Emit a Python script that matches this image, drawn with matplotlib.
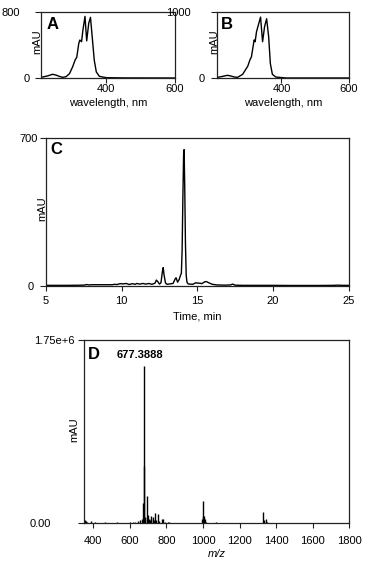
import matplotlib
matplotlib.use("Agg")
import matplotlib.pyplot as plt
from matplotlib.transforms import ScaledTranslation

plt.rcParams['font.family'] = ['Liberation Sans', 'DejaVu Sans']
plt.rcParams['font.size'] = 8

# ---------------- data ----------------
wl_A = [210, 229, 244, 254, 263, 273, 283, 293, 302, 310, 314, 320, 323, 328, 332, 338,
        343, 349, 354, 359, 365, 371, 380, 400, 450, 600]
abs_A = [8, 25, 45, 35, 20, 8, 16, 53, 135, 225, 250, 420, 460, 440, 580, 747,
         450, 665, 735, 500, 216, 73, 20, 4, 1, 0]

wl_B = [209, 226, 240, 250, 260, 270, 285, 300, 307, 311, 319, 322, 326, 338,
        344, 350, 356, 362, 367, 373, 383, 413, 450, 600]
abs_B = [8, 25, 41, 30, 15, 10, 56, 178, 280, 320, 576, 550, 700, 923,
         550, 780, 898, 627, 220, 56, 15, 0, 0, 0]

time_C = [5.0, 5.5, 6.0, 6.5, 7.0, 7.5, 7.7, 7.8, 8.0, 8.5, 9.0, 9.4, 9.5, 9.7, 9.9,
          10.1, 10.3, 10.5, 10.7, 10.9, 11.0, 11.2, 11.4, 11.6, 11.8, 12.0, 12.2,
          12.3, 12.4, 12.5, 12.6, 12.7, 12.75, 12.8, 12.9, 13.0, 13.2, 13.4, 13.55,
          13.6, 13.7, 13.8, 13.9, 13.95, 14.0, 14.05, 14.1, 14.13, 14.17, 14.22,
          14.27, 14.32, 14.4, 14.5, 14.7, 14.9, 15.0, 15.2, 15.3, 15.5, 15.6, 15.8,
          16.0, 16.3, 16.8, 17.2, 17.35, 17.5, 18.0, 19.0, 20.0, 21.0, 22.0, 23.0,
          24.0, 24.3, 24.6, 25.0]
mau_C = [3, 3, 3, 3, 3.5, 4, 7, 5, 6, 6, 6, 6, 8, 7, 11,
         10, 12, 7, 11, 8, 12, 9, 12, 9, 12, 8, 13,
         28, 20, 9, 15, 70, 87, 55, 14, 8, 10, 12, 35,
         39, 18, 30, 52, 60, 170, 420, 630, 645, 480, 200,
         50, 18, 10, 9, 8, 15, 14, 13, 11, 20, 21, 14,
         8, 5, 4, 5, 9, 4, 3, 3, 3, 2.5, 2.5, 2.5,
         3, 4, 3, 3]

mz_D = [352, 358, 364, 387, 410, 464, 530, 560, 600, 618, 630, 645, 655, 664, 669,
        677.3888, 678.4, 684, 691, 695, 700, 704, 708, 714, 718, 724, 730, 738, 745,
        751, 760, 773, 782, 790, 806, 815, 993, 998, 1001, 1004, 1009, 1014, 1073,
        1329, 1332, 1346, 1352]
int_D = [25e3, 18e3, 12e3, 15e3, 5e3, 8e3, 5e3, 4e3, 6e3, 10e3, 12e3, 20e3, 30e3, 38e3, 190e3,
         1.505e6, 548e3, 60e3, 258e3, 45e3, 76e3, 40e3, 30e3, 70e3, 35e3, 55e3, 25e3, 93e3, 30e3,
         83e3, 20e3, 40e3, 35e3, 10e3, 10e3, 8e3, 35e3, 210e3, 70e3, 70e3, 35e3, 10e3, 10e3,
         102e3, 25e3, 35e3, 8e3]
peak_label = "677.3888"

# ---------------- figure ----------------
fig = plt.figure(figsize=(3.72, 5.66), dpi=100)
spine_col = '#222222'


def style(ax, ylab_offsets_px, xpad):
    for s in ax.spines.values():
        s.set_color(spine_col)
        s.set_linewidth(0.9)
    ax.tick_params(axis='y', direction='out', length=4.3, width=0.8, pad=2, colors=spine_col,
                   labelcolor='black', labelsize=8)
    ax.tick_params(axis='x', direction='out', length=3.6, width=0.8, pad=xpad, colors=spine_col,
                   labelcolor='black', labelsize=8)
    for tick, dx in zip(ax.yaxis.get_major_ticks(), ylab_offsets_px):
        tick.label1.set_transform(tick.label1.get_transform() +
                                  ScaledTranslation(dx / 100.0, 0, fig.dpi_scale_trans))


# Panel A
axA = fig.add_axes([41 / 372, 1 - 78 / 566, 134 / 372, 66 / 566])
axA.plot(wl_A, abs_A, color='black', lw=1.0)
axA.set_xlim(210, 600)
axA.set_ylim(0, 800)
axA.set_xticks([400, 600])
axA.set_yticks([0, 800])
style(axA, [-2.2, -12.2], 0.7)
axA.set_xlabel('wavelength, nm', fontsize=8)
axA.xaxis.set_label_coords(0.5, -0.31)
axA.set_ylabel('mAU', fontsize=8)
axA.yaxis.set_label_coords(0.01, 0.553)
axA.text(0.045, 0.93, 'A', transform=axA.transAxes, fontsize=12, fontweight='bold',
         ha='left', va='top')

# Panel B
axB = fig.add_axes([217 / 372, 1 - 78 / 566, 132 / 372, 66 / 566])
axB.plot(wl_B, abs_B, color='black', lw=1.0)
axB.set_xlim(209, 600)
axB.set_ylim(0, 1000)
axB.set_xticks([400, 600])
axB.set_yticks([0, 1000])
style(axB, [-3.2, -17.2], 0.7)
axB.set_xlabel('wavelength, nm', fontsize=8)
axB.xaxis.set_label_coords(0.5, -0.31)
axB.set_ylabel('mAU', fontsize=8)
axB.yaxis.set_label_coords(0.015, 0.553)
axB.text(0.03, 0.93, 'B', transform=axB.transAxes, fontsize=12, fontweight='bold',
         ha='left', va='top')

# Panel C
axC = fig.add_axes([46 / 372, 1 - 286 / 566, 302.5 / 372, 148 / 566])
axC.plot(time_C, mau_C, color='black', lw=1.0)
axC.set_xlim(5, 25)
axC.set_ylim(0, 700)
axC.set_xticks([5, 10, 15, 20, 25])
axC.set_yticks([0, 700])
style(axC, [-3.2, 0.8], 3.5)
axC.set_xlabel('Time, min', fontsize=8)
axC.xaxis.set_label_coords(0.5, -0.17)
axC.set_ylabel('mAU', fontsize=8)
axC.yaxis.set_label_coords(0.004, 0.52)
axC.text(0.013, 0.97, 'C', transform=axC.transAxes, fontsize=12, fontweight='bold',
         ha='left', va='top')

# Panel D
axD = fig.add_axes([84 / 372, 1 - 523 / 566, 265.3 / 372, 183 / 566])
axD.vlines(mz_D, 0, int_D, color='black', lw=1.0)
axD.set_xlim(349, 1800)
axD.set_ylim(0, 1.75e6)
axD.set_xticks([400, 600, 800, 1000, 1200, 1400, 1600, 1800])
axD.set_yticks([0, 1.75e6])
axD.set_yticklabels(['0.00', '1.75e+6'])
style(axD, [-24.2, -0.2], 6)
axD.set_xlabel('m/z', fontsize=8, style='italic')
axD.xaxis.set_label_coords(0.5, -0.14)
axD.set_ylabel('mAU', fontsize=8)
axD.yaxis.set_label_coords(-0.019, 0.508)
axD.text(0.015, 0.96, 'D', transform=axD.transAxes, fontsize=12, fontweight='bold',
         ha='left', va='top')
imax = int_D.index(max(int_D))
axD.annotate(peak_label, xy=(mz_D[imax], int_D[imax]), xytext=(-3, 4),
             textcoords='offset points', ha='center', va='bottom',
             fontsize=8, fontweight='bold')

fig.savefig('out.png', dpi=100)
